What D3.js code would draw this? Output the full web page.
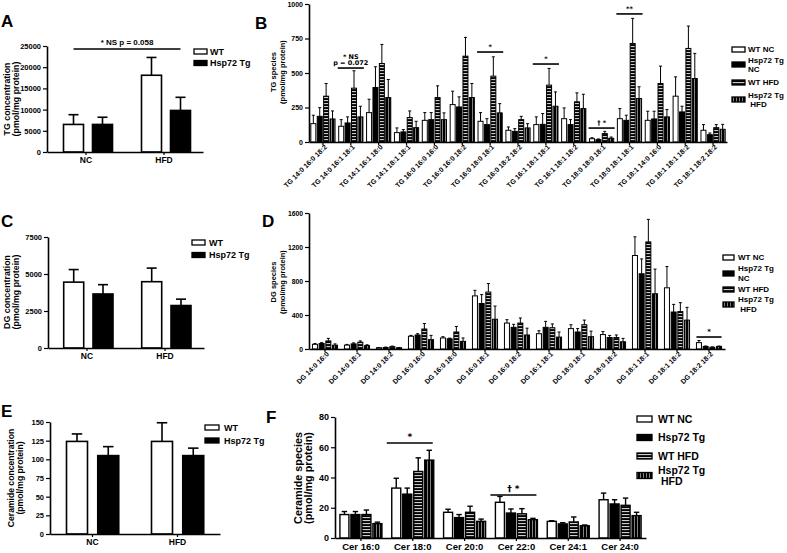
<!DOCTYPE html>
<html><head><meta charset="utf-8">
<script src="https://cdn.jsdelivr.net/npm/d3@7"></script>
<style>
body{margin:0;background:#fff}
text{font-family:"Liberation Sans",Arial,sans-serif;font-weight:bold;fill:#000}
</style>
</head><body>
<svg id="c" width="787" height="553"></svg>
<script>
// ---------------- DATA ----------------
const totalGroups = ["NC", "HFD"];
const totalSeries = ["WT", "Hsp72 Tg"];

// Panel A: total TG
const tgTotalWT = [6500, 18100];
const tgTotalWTErr = [2300, 4200];
const tgTotalTg = [6500, 9800];
const tgTotalTgErr = [1700, 3100];
const tgTotalTicks = [0, 5000, 10000, 15000, 20000, 25000];

// Panel C: total DG
const dgTotalWT = [4450, 4480];
const dgTotalWTErr = [850, 920];
const dgTotalTg = [3650, 2870];
const dgTotalTgErr = [630, 430];
const dgTotalTicks = [0, 2500, 5000, 7500];

// Panel E: total ceramide
const cerTotalWT = [124, 124];
const cerTotalWTErr = [10, 25];
const cerTotalTg = [105, 105];
const cerTotalTgErr = [12, 10];
const cerTotalTicks = [0, 25, 50, 75, 100, 125, 150];

const speciesSeries = ["WT NC", "Hsp72 Tg NC", "WT HFD", "Hsp72 Tg HFD"];

// Panel B: TG species
const tgSpecies = ["TG 14:0 16:0 18:2","TG 14:0 16:1 18:1","TG 14:1 16:1 18:0","TG 14:1 18:1 18:1",
  "TG 16:0 16:0 16:0","TG 16:0 16:0 18:2","TG 16:0 18:0 18:1","TG 16:0 18:2 18:2","TG 16:1 18:1 18:1",
  "TG 16:1 18:1 18:2","TG 18:0 18:0 18:1","TG 18:0 18:1 18:1","TG 18:1 14:0 16:0","TG 18:1 18:1 18:2",
  "TG 18:1 18:2 18:2"];
const tgWTNC     = [133,114,213, 68,157,271,150, 85,126,169,24,169,157,332, 85];
const tgWTNCErr  = [ 61, 48, 97, 34, 56, 97, 63, 24, 56, 78, 7, 73, 66,140, 41];
const tgTgNC     = [186,138,395, 73,162,254,126, 77,128,126,17,157,167,218, 53];
const tgTgNCErr  = [ 63, 44,150, 17, 51, 73, 43, 20, 78, 36, 5, 37, 56, 41, 12];
const tgWTHFD    = [332,390,569,177,322,622,477,162,412,291,61,714,424,678,104];
const tgWTHFDErr = [ 92,126,138, 48, 85,136,140, 24,121, 65,16,182,126,162, 22];
const tgTgHFD    = [167,182,322,104,162,322,211,102,259,242,27,315,182,460, 92];
const tgTgHFDErr = [ 58, 77,131, 46, 49,102, 67, 31,104,104, 9, 85, 53,182, 36];
const tgSpeciesTicks = [0, 250, 500, 750, 1000];
const tgSig = [
  {cat: "TG 14:0 16:1 18:1", value: 536, label: ["* NS", "p = 0.072"]},
  {cat: "TG 16:0 18:0 18:1", value: 652, label: ["*"]},
  {cat: "TG 16:1 18:1 18:1", value: 565, label: ["*"]},
  {cat: "TG 18:0 18:0 18:1", value: 101, label: ["† *"]},
  {cat: "TG 18:0 18:1 18:1", value: 928, label: ["**"]}
];

// Panel D: DG species
const dgSpecies = ["DG 14:0 16:0","DG 14:0 18:1","DG 14:0 18:2","DG 16:0 16:0","DG 16:0 18:0",
  "DG 16:0 18:1","DG 16:0 18:2","DG 16:1 18:1","DG 18:0 18:1","DG 18:0 18:2","DG 18:1 18:1",
  "DG 18:1 18:2","DG 18:2 18:2"];
const dgWTNC     = [55,46,15,150,130,625,305,180,240,170,1100,720,75];
const dgWTNCErr  = [10, 8, 3, 10, 15, 65, 40, 35, 45, 35, 220,250,25];
const dgTgNC     = [65,60,18,165,120,535,255,255,200,135, 885,435,30];
const dgTgNCErr  = [10,12, 4, 15,  8,105, 35, 70, 40, 25, 175, 90, 5];
const dgWTHFD    = [95,80,28,235,200,670,305,250,285,135,1260,440,20];
const dgWTHFDErr = [30,15, 6, 65, 65,100, 60, 45, 55, 30, 265,105, 5];
const dgTgHFD    = [45,40,15,110, 90,350,165,140,145, 85, 650,340,30];
const dgTgHFDErr = [15,10, 3, 50, 40,155, 80, 60, 65, 40, 290,150, 5];
const dgSpeciesTicks = [0, 400, 800, 1200, 1600];
const dgSig = [{cat: "DG 18:2 18:2", value: 141, label: ["*"]}];

// Panel F: ceramide species
const cerSpecies = ["Cer 16:0","Cer 18:0","Cer 20:0","Cer 22:0","Cer 24:1","Cer 24:0"];
const cerWTNC     = [15.5, 33.0, 17.0, 23.6, 11.0, 25.3];
const cerWTNCErr  = [ 2.0,  6.5,  2.0,  3.9,  0.4,  4.4];
const cerTgNC     = [15.5, 29.0, 13.5, 16.5,  9.3, 22.5];
const cerTgNCErr  = [ 2.0,  4.0,  2.0,  2.7,  0.8,  2.8];
const cerWTHFD    = [15.5, 44.0, 17.0, 16.0, 10.6, 21.6];
const cerWTHFDErr = [ 3.0,  9.0,  4.0,  3.4,  3.3,  4.8];
const cerTgHFD    = [ 9.5, 51.5, 11.0, 12.1,  8.1, 14.8];
const cerTgHFDErr = [ 1.0,  6.5,  1.5,  0.9,  0.5,  2.2];
const cerSpeciesTicks = [0, 20, 40, 60, 80];
const cerSig = [
  {cat: "Cer 18:0", value: 62.8, label: ["*"]},
  {cat: "Cer 22:0", value: 28.4, label: ["† *"]}
];

// ---------------- DRAWING ----------------
const svg = d3.select("#c");
svg.append("rect").attr("width", 787).attr("height", 553).attr("fill", "#fff");
const defs = svg.append("defs");
const ph = defs.append("pattern").attr("id", "hstripe").attr("patternUnits", "userSpaceOnUse")
  .attr("width", 4).attr("height", 3);
ph.append("rect").attr("width", 4).attr("height", 3).attr("fill", "#000");
ph.append("rect").attr("y", 1.2).attr("width", 4).attr("height", 0.9).attr("fill", "#fff");
const pv = defs.append("pattern").attr("id", "vstripe").attr("patternUnits", "userSpaceOnUse")
  .attr("width", 3).attr("height", 4);
pv.append("rect").attr("width", 3).attr("height", 4).attr("fill", "#000");
pv.append("rect").attr("x", 1.2).attr("width", 0.7).attr("height", 4).attr("fill", "#bbb");

const fills = ["#fff", "#000", "url(#hstripe)", "url(#vstripe)"];

function panelLetter(t, x, y) {
  svg.append("text").attr("x", x).attr("y", y).attr("font-size", 17).text(t);
}

function yTitle(lines, xs, cy, fs) {
  lines.forEach((l, i) => {
    svg.append("text").attr("transform", `translate(${xs[i]},${cy}) rotate(-90)`)
      .attr("text-anchor", "middle").attr("font-size", fs).text(l);
  });
}

function yAxis(y, x0, ticks, fs) {
  const g = svg.append("g").attr("transform", `translate(${x0},0)`)
    .call(d3.axisLeft(y).tickValues(ticks).tickSize(4).tickSizeOuter(0).tickPadding(2).tickFormat(d3.format("d")));
  g.select(".domain").attr("stroke-width", 1.6);
  g.selectAll(".tick line").attr("stroke-width", 1.2);
  g.selectAll("text").attr("font-size", fs).attr("font-family", "Liberation Sans, Arial, sans-serif").attr("font-weight", "bold");
  return g;
}

function xAxis(x, yBot, fs, rotated) {
  const g = svg.append("g").attr("transform", `translate(0,${yBot})`)
    .call(d3.axisBottom(x).tickSize(3).tickSizeOuter(0).tickPadding(2));
  g.select(".domain").attr("stroke-width", 1.6);
  g.selectAll(".tick line").attr("stroke-width", 1.2);
  g.selectAll("text").attr("font-size", fs).attr("font-family", "Liberation Sans, Arial, sans-serif").attr("font-weight", "bold");
  if (rotated) {
    g.selectAll("text").attr("text-anchor", "end").attr("dy", "0.7em")
      .attr("transform", "translate(1,2) rotate(-45)").attr("y", 0).attr("x", 0);
  }
  return g;
}

function drawBar(cx, w, y, v, e, fill, sw, capW) {
  const top = y(v), base = y(0);
  if (e > 0) {
    svg.append("line").attr("x1", cx).attr("x2", cx).attr("y1", top).attr("y2", y(v + e))
      .attr("stroke", "#000").attr("stroke-width", sw);
    svg.append("line").attr("x1", cx - capW / 2).attr("x2", cx + capW / 2).attr("y1", y(v + e)).attr("y2", y(v + e))
      .attr("stroke", "#000").attr("stroke-width", sw);
  }
  svg.append("rect").attr("x", cx - w / 2).attr("y", top).attr("width", w).attr("height", base - top)
    .attr("fill", fill).attr("stroke", "#000").attr("stroke-width", sw);
}

function legend(items, x, ys, sw, sh, fs, textX, lineGap) {
  items.forEach((it, i) => {
    svg.append("rect").attr("x", x).attr("y", ys[i]).attr("width", sw).attr("height", sh)
      .attr("fill", fills[it.fi]).attr("stroke", "#000").attr("stroke-width", 1.3);
    const lines = it.lines;
    const cy = ys[i] + sh / 2;
    lines.forEach((l, j) => {
      const off = (j - (lines.length - 1) / 2) * lineGap;
      svg.append("text").attr("x", textX).attr("y", cy + off).attr("dy", "0.35em")
        .attr("font-size", fs).attr("xml:space", "preserve").style("white-space", "pre").text(l);
    });
  });
}

// ---- Simple two-group panels (A, C, E) ----
function simplePanel(o) {
  const x = d3.scaleBand().domain(totalGroups).range([o.x0, o.x1]);
  const y = d3.scaleLinear().domain([0, o.max]).range([o.yBot, o.yTop]);
  o.series.forEach((s, si) => {
    totalGroups.forEach((c, i) => {
      const cx = x(c) + x.bandwidth() / 2 + o.offsets[si];
      drawBar(cx, o.barW, y, s.vals[i], s.errs[i], fills[si], 1.6, o.barW * 0.5);
    });
  });
  yAxis(y, o.x0, o.ticks, o.tickFs);
  xAxis(x, o.yBot, 8.5, false);
  return {x, y};
}

// Panel A
const A = simplePanel({x0: 47, x1: 203, yTop: 46, yBot: 152, max: 25000, ticks: tgTotalTicks,
  offsets: [-12.5, 16.5], barW: 20, tickFs: 7.5,
  series: [{vals: tgTotalWT, errs: tgTotalWTErr}, {vals: tgTotalTg, errs: tgTotalTgErr}]});
{
  const x1 = A.x("NC") + A.x.bandwidth() / 2 - 12.5, x2 = A.x("HFD") + A.x.bandwidth() / 2 + 16.5;
  svg.append("line").attr("x1", x1).attr("x2", x2).attr("y1", A.y(24300)).attr("y2", A.y(24300))
    .attr("stroke", "#000").attr("stroke-width", 1.6);
  svg.append("text").attr("x", (x1 + x2) / 2).attr("y", A.y(24300) - 4).attr("text-anchor", "middle")
    .attr("font-size", 8).text("* NS p = 0.058");
}
panelLetter("A", 1, 27);
yTitle(["TG concentration", "(pmol/mg protein)"], [10, 18.5], 99, 8.8);
legend([{fi: 0, lines: ["WT"]}, {fi: 1, lines: ["Hsp72 Tg"]}], 194, [49, 60.5], 13, 5, 9, 210, 0);

// Panel C
simplePanel({x0: 48, x1: 204, yTop: 237, yBot: 348, max: 7500, ticks: dgTotalTicks,
  offsets: [-13.3, 16], barW: 20, tickFs: 7.5,
  series: [{vals: dgTotalWT, errs: dgTotalWTErr}, {vals: dgTotalTg, errs: dgTotalTgErr}]});
panelLetter("C", 1, 227);
yTitle(["DG concentration", "(pmol/mg protein)"], [10, 18.5], 292, 8.8);
legend([{fi: 0, lines: ["WT"]}, {fi: 1, lines: ["Hsp72 Tg"]}], 192, [240, 252.5], 13, 5, 9, 209, 0);

// Panel E
simplePanel({x0: 50, x1: 220, yTop: 422, yBot: 534, max: 150, ticks: cerTotalTicks,
  offsets: [-15.5, 15.75], barW: 21, tickFs: 7.5,
  series: [{vals: cerTotalWT, errs: cerTotalWTErr}, {vals: cerTotalTg, errs: cerTotalTgErr}]});
panelLetter("E", 1, 417);
yTitle(["Ceramide concentration", "(pmol/mg protein)"], [14, 22.5], 478, 8.6);
legend([{fi: 0, lines: ["WT"]}, {fi: 1, lines: ["Hsp72 Tg"]}], 205, [425, 438], 14, 5, 9, 224, 0);

// ---- Species panels (B, D, F) ----
function speciesPanel(o) {
  const x = d3.scaleBand().domain(o.cats).range([o.x0, o.x1]);
  const y = d3.scaleLinear().domain([0, o.max]).range([o.yBot, o.yTop]);
  o.series.forEach((s, si) => {
    o.cats.forEach((c, i) => {
      const cx = x(c) + x.bandwidth() / 2 + (si - 1.5) * o.pitch;
      drawBar(cx, o.barW, y, s.vals[i], s.errs[i], fills[si], o.sw, Math.max(3, o.barW * 0.6));
    });
  });
  yAxis(y, o.x0, o.ticks, o.tickFs);
  xAxis(x, o.yBot, o.labelFs, o.rotated);
  o.sig.forEach(s => {
    const c = x(s.cat) + x.bandwidth() / 2;
    const half = 1.5 * o.pitch + o.barW / 2 + o.sigExtra;
    const yy = y(s.value);
    svg.append("line").attr("x1", c - half + o.sigShift).attr("x2", c + half + o.sigShift)
      .attr("y1", yy).attr("y2", yy).attr("stroke", "#000").attr("stroke-width", 1.6);
    s.label.forEach((l, j) => {
      svg.append("text").attr("x", c + o.sigShift).attr("y", yy - 3 - (s.label.length - 1 - j) * o.sigFs)
        .attr("text-anchor", "middle").attr("font-size", o.sigFs)
        .style("font-family", "'DejaVu Sans', 'Liberation Sans', sans-serif").style("fill", "#000")
        .text(l);
    });
  });
  return {x, y};
}

// Panel B
speciesPanel({x0: 309, x1: 727, yTop: 4, yBot: 142, max: 1000, ticks: tgSpeciesTicks, cats: tgSpecies,
  pitch: 6.4, barW: 5, sw: 1, tickFs: 7, labelFs: 7, rotated: true, sig: tgSig, sigFs: 6.5, sigExtra: 1, sigShift: 0,
  series: [{vals: tgWTNC, errs: tgWTNCErr}, {vals: tgTgNC, errs: tgTgNCErr},
           {vals: tgWTHFD, errs: tgWTHFDErr}, {vals: tgTgHFD, errs: tgTgHFDErr}]});
panelLetter("B", 255, 29);
yTitle(["TG species", "(pmol/mg protein)"], [276, 285], 72, 7.5);
legend([{fi: 0, lines: ["WT NC"]}, {fi: 1, lines: ["Hsp72 Tg", "NC"]}, {fi: 2, lines: ["WT HFD"]},
        {fi: 3, lines: ["Hsp72 Tg", " HFD"]}], 732, [47, 62, 80, 97], 13, 5, 8, 748, 8.5);

// Panel D
speciesPanel({x0: 309, x1: 725, yTop: 213, yBot: 349, max: 1600, ticks: dgSpeciesTicks, cats: dgSpecies,
  pitch: 6.7, barW: 5, sw: 1, tickFs: 6.8, labelFs: 7, rotated: true, sig: dgSig, sigFs: 7, sigExtra: 0, sigShift: 0,
  series: [{vals: dgWTNC, errs: dgWTNCErr}, {vals: dgTgNC, errs: dgTgNCErr},
           {vals: dgWTHFD, errs: dgWTHFDErr}, {vals: dgTgHFD, errs: dgTgHFDErr}]});
panelLetter("D", 262, 227);
yTitle(["DG species", "(pmol/mg protein)"], [276, 285], 282, 7.5);
legend([{fi: 0, lines: ["WT NC"]}, {fi: 1, lines: ["Hsp72 Tg", "NC"]}, {fi: 2, lines: ["WT HFD"]},
        {fi: 3, lines: ["Hsp72 Tg", " HFD"]}], 723, [255, 271, 287, 302], 11, 5, 8, 738, 10);

// Panel F
speciesPanel({x0: 335, x1: 646, yTop: 417, yBot: 538, max: 80, ticks: cerSpeciesTicks, cats: cerSpecies,
  pitch: 11, barW: 9, sw: 1.4, tickFs: 9, labelFs: 9.5, rotated: false, sig: cerSig, sigFs: 9, sigExtra: 2, sigShift: -3,
  series: [{vals: cerWTNC, errs: cerWTNCErr}, {vals: cerTgNC, errs: cerTgNCErr},
           {vals: cerWTHFD, errs: cerWTHFDErr}, {vals: cerTgHFD, errs: cerTgHFDErr}]});
panelLetter("F", 266, 423);
yTitle(["Ceramide species", "(pmol/mg protein)"], [302, 312], 478, 10.8);
legend([{fi: 0, lines: ["WT NC"]}, {fi: 1, lines: ["Hsp72 Tg"]}, {fi: 2, lines: ["WT HFD"]},
        {fi: 3, lines: ["Hsp72 Tg", " HFD"]}], 637, [416, 434.5, 453, 472.5], 15, 6, 10.5, 658, 11);
</script>
</body></html>
